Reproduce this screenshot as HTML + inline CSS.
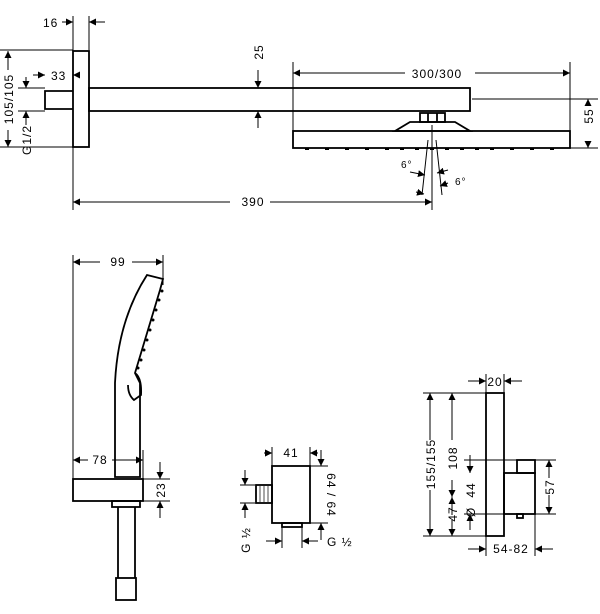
<!DOCTYPE html>
<html><head><meta charset="utf-8"><style>
html,body{margin:0;padding:0;background:#fff}
svg{display:block}
text{font-family:"Liberation Sans",sans-serif;font-size:12px;fill:#000;letter-spacing:1px}
</style></head><body>
<svg width="600" height="614" viewBox="0 0 600 614" xmlns="http://www.w3.org/2000/svg">
<defs>
<marker id="a" viewBox="0 0 10 10" refX="10" refY="5" markerWidth="7" markerHeight="7" orient="auto-start-reverse" markerUnits="userSpaceOnUse"><path d="M0,0L10,5L0,10z" fill="#000"/></marker>
</defs>
<g stroke="#000" fill="none" stroke-width="1">
<!-- TOP: extension lines -->
<line x1="73" y1="16" x2="73" y2="210"/><line x1="89" y1="16" x2="89" y2="50"/>
<line x1="0" y1="50" x2="73" y2="50"/><line x1="0" y1="147" x2="73" y2="147"/>
<line x1="18" y1="88" x2="45" y2="88"/><line x1="18" y1="111" x2="45" y2="111"/>
<line x1="293" y1="62" x2="293" y2="148"/><line x1="570" y1="62" x2="570" y2="148"/>
<line x1="472" y1="99" x2="598" y2="99"/><line x1="570" y1="148" x2="598" y2="148"/>
<line x1="432" y1="125" x2="432" y2="210"/>
</g>
<g stroke="#000" fill="none" stroke-width="1.8">
<rect x="73" y="51" width="16" height="96"/>
<rect x="89" y="88" width="381" height="23"/>
<polyline points="73,91 45,91 45,109 73,109"/>
<rect x="420" y="113" width="25" height="9"/>
<line x1="428" y1="113" x2="428" y2="122"/><line x1="437" y1="113" x2="437" y2="122"/>
<polygon points="395,131 410,122 455,122 470,131"/>
<rect x="293" y="131" width="277" height="17"/>
</g>
<g fill="#000">
<rect x="305" y="148" width="4" height="2"/><rect x="325" y="148" width="4" height="2"/><rect x="345" y="148" width="4" height="2"/><rect x="365" y="148" width="4" height="2"/><rect x="385" y="148" width="4" height="2"/><rect x="400" y="148" width="4" height="2"/><rect x="415" y="148" width="4" height="2"/><rect x="430" y="148" width="4" height="2"/><rect x="445" y="148" width="4" height="2"/><rect x="460" y="148" width="4" height="2"/><rect x="475" y="148" width="4" height="2"/><rect x="490" y="148" width="4" height="2"/><rect x="510" y="148" width="4" height="2"/><rect x="530" y="148" width="4" height="2"/><rect x="550" y="148" width="4" height="2"/>
</g>
<g stroke="#000" stroke-width="1" fill="none">
<!-- dims -->
<line x1="62" y1="22" x2="73" y2="22" marker-end="url(#a)"/><line x1="105" y1="22" x2="89" y2="22" marker-end="url(#a)"/>
<line x1="8" y1="70" x2="8" y2="51" marker-end="url(#a)"/><line x1="8" y1="130" x2="8" y2="147" marker-end="url(#a)"/>
<line x1="26" y1="77" x2="26" y2="88" marker-end="url(#a)"/><line x1="26" y1="125" x2="26" y2="111" marker-end="url(#a)"/>
<line x1="33" y1="75" x2="45" y2="75" marker-end="url(#a)"/><line x1="80" y1="75" x2="73" y2="75" marker-end="url(#a)"/>
<line x1="258" y1="70" x2="258" y2="88" marker-end="url(#a)"/><line x1="258" y1="128" x2="258" y2="111" marker-end="url(#a)"/>
<line x1="405" y1="73" x2="293" y2="73" marker-end="url(#a)"/><line x1="475" y1="73" x2="570" y2="73" marker-end="url(#a)"/>
<line x1="588" y1="105" x2="588" y2="99" marker-end="url(#a)"/><line x1="588" y1="142" x2="588" y2="148" marker-end="url(#a)"/>
<line x1="230" y1="202" x2="73" y2="202" marker-end="url(#a)"/><line x1="270" y1="202" x2="432" y2="202" marker-end="url(#a)"/>
<line x1="428" y1="140" x2="422" y2="195"/><line x1="436" y1="140" x2="442" y2="195"/>
<line x1="416" y1="192" x2="424" y2="194" marker-end="url(#a)"/><line x1="448" y1="183" x2="440" y2="186" marker-end="url(#a)"/>
<line x1="410" y1="172" x2="425" y2="175" marker-end="url(#a)"/><line x1="448" y1="170" x2="437" y2="173" marker-end="url(#a)"/>
</g>
<text x="43" y="27">16</text>
<text x="51" y="80">33</text>
<text x="253" y="202" text-anchor="middle" dy="4">390</text>
<text x="437" y="78" text-anchor="middle">300/300</text>
<text transform="translate(13,99) rotate(-90)" text-anchor="middle">105/105</text>
<text transform="translate(31,140) rotate(-90)" text-anchor="middle">G1/2</text>
<text transform="translate(263,52) rotate(-90)" text-anchor="middle">25</text>
<text transform="translate(593,116) rotate(-90)" text-anchor="middle">55</text>
<text x="401" y="168" style="font-size:10px">6°</text>
<text x="455" y="185" style="font-size:10px">6°</text>

<!-- HAND SHOWER -->
<g stroke="#000" stroke-width="1" fill="none">
<line x1="73" y1="255" x2="73" y2="480"/><line x1="163" y1="255" x2="163" y2="285"/>
<line x1="143" y1="450" x2="143" y2="479"/><line x1="143" y1="479" x2="170" y2="479"/><line x1="143" y1="501" x2="170" y2="501"/>
<line x1="100" y1="262" x2="73" y2="262" marker-end="url(#a)"/><line x1="132" y1="262" x2="163" y2="262" marker-end="url(#a)"/>
<line x1="88" y1="460" x2="73" y2="460" marker-end="url(#a)"/><line x1="112" y1="460" x2="143" y2="460" marker-end="url(#a)"/>
<line x1="160" y1="462" x2="160" y2="479" marker-end="url(#a)"/><line x1="160" y1="518" x2="160" y2="501" marker-end="url(#a)"/>
</g>
<g stroke="#000" stroke-width="1.8" fill="none">
<path d="M147,275 L163,279 L160,290 L135,373 L140,383 L140,477 L115,477 L115,383 Q118,320 147,275 Z"/>
<path d="M135,373 Q142,378 141,395 L134,400 Q128,395 128,385"/>
<rect x="73" y="479" width="70" height="22"/>
<rect x="112" y="501" width="28" height="6"/>
<line x1="118" y1="507" x2="118" y2="578"/><line x1="135" y1="507" x2="135" y2="578"/>
<rect x="116" y="578" width="20" height="22"/>
</g>
<g fill="#000">
<circle cx="162" cy="291" r="1.5"/><circle cx="159" cy="300" r="1.5"/><circle cx="156" cy="310" r="1.5"/><circle cx="153" cy="320" r="1.5"/><circle cx="150" cy="330" r="1.5"/><circle cx="147" cy="340" r="1.5"/><circle cx="144" cy="350" r="1.5"/><circle cx="141" cy="360" r="1.5"/><circle cx="138" cy="368" r="1.5"/>
</g>
<text x="118" y="266" text-anchor="middle">99</text>
<text x="100" y="464" text-anchor="middle">78</text>
<text transform="translate(165,490) rotate(-90)" text-anchor="middle">23</text>

<!-- WALL OUTLET -->
<g stroke="#000" stroke-width="1" fill="none">
<line x1="272" y1="447" x2="272" y2="466"/><line x1="310" y1="447" x2="310" y2="466"/>
<line x1="310" y1="466" x2="328" y2="466"/><line x1="310" y1="523" x2="328" y2="523"/>
<line x1="240" y1="485" x2="255" y2="485"/><line x1="240" y1="503" x2="255" y2="503"/>
<line x1="282" y1="523" x2="282" y2="548"/><line x1="302" y1="523" x2="302" y2="548"/>
<line x1="272" y1="453" x2="272" y2="453" marker-end="url(#a)"/>
<line x1="264" y1="453" x2="272" y2="453" marker-end="url(#a)"/><line x1="318" y1="453" x2="310" y2="453" marker-end="url(#a)"/>
<line x1="321" y1="450" x2="321" y2="466" marker-end="url(#a)"/><line x1="321" y1="540" x2="321" y2="523" marker-end="url(#a)"/>
<line x1="245" y1="470" x2="245" y2="485" marker-end="url(#a)"/><line x1="245" y1="518" x2="245" y2="503" marker-end="url(#a)"/>
<line x1="266" y1="541" x2="282" y2="541" marker-end="url(#a)"/><line x1="318" y1="541" x2="302" y2="541" marker-end="url(#a)"/>
</g>
<g stroke="#000" stroke-width="1.8" fill="none">
<rect x="272" y="466" width="38" height="57"/>
<rect x="256" y="485" width="16" height="18"/>
<rect x="282" y="523" width="20" height="4"/>
</g>
<g stroke="#000" stroke-width="0.7"><line x1="260" y1="486" x2="260" y2="502"/><line x1="264" y1="486" x2="264" y2="502"/><line x1="268" y1="486" x2="268" y2="502"/></g>
<text x="291" y="457" text-anchor="middle">41</text>
<text transform="translate(327,495) rotate(90)" text-anchor="middle">64 / 64</text>
<text transform="translate(250,540) rotate(-90)" text-anchor="middle">G ½</text>
<text x="327" y="546">G ½</text>

<!-- THERMOSTAT -->
<g stroke="#000" stroke-width="1" fill="none">
<line x1="486" y1="374" x2="486" y2="393"/><line x1="504" y1="374" x2="504" y2="393"/>
<line x1="423" y1="393" x2="486" y2="393"/><line x1="423" y1="536" x2="486" y2="536"/>
<line x1="464" y1="460" x2="517" y2="460"/><line x1="464" y1="514" x2="517" y2="514"/>
<line x1="535" y1="460" x2="556" y2="460"/><line x1="535" y1="514" x2="556" y2="514"/>
<line x1="486" y1="536" x2="486" y2="556"/><line x1="535" y1="514" x2="535" y2="556"/>
<line x1="468" y1="381" x2="486" y2="381" marker-end="url(#a)"/><line x1="522" y1="381" x2="504" y2="381" marker-end="url(#a)"/>
<line x1="430" y1="440" x2="430" y2="393" marker-end="url(#a)"/><line x1="430" y1="490" x2="430" y2="536" marker-end="url(#a)"/>
<line x1="452" y1="440" x2="452" y2="393" marker-end="url(#a)"/><line x1="452" y1="480" x2="452" y2="497" marker-end="url(#a)"/>
<line x1="452" y1="515" x2="452" y2="497" marker-end="url(#a)"/><line x1="452" y1="520" x2="452" y2="536" marker-end="url(#a)"/>
<line x1="470" y1="455" x2="470" y2="473" marker-end="url(#a)"/><line x1="470" y1="530" x2="470" y2="514" marker-end="url(#a)"/>
<line x1="549" y1="478" x2="549" y2="460" marker-end="url(#a)"/><line x1="549" y1="495" x2="549" y2="514" marker-end="url(#a)"/>
<line x1="468" y1="549" x2="486" y2="549" marker-end="url(#a)"/><line x1="553" y1="549" x2="535" y2="549" marker-end="url(#a)"/>
</g>
<g stroke="#000" stroke-width="1.8" fill="none">
<rect x="486" y="393" width="18" height="143"/>
<rect x="504" y="473" width="31" height="41"/>
<rect x="517" y="460" width="18" height="13"/>
<rect x="517" y="514" width="6" height="4"/>
</g>
<text x="495" y="386" text-anchor="middle">20</text>
<text x="511" y="553" text-anchor="middle">54-82</text>
<text transform="translate(435,464) rotate(-90)" text-anchor="middle">155/155</text>
<text transform="translate(457,458) rotate(-90)" text-anchor="middle">108</text>
<text transform="translate(457,514) rotate(-90)" text-anchor="middle">47</text>
<text transform="translate(475,490) rotate(-90)" text-anchor="middle">44</text>
<text transform="translate(475,512) rotate(-90)" text-anchor="middle">Ø</text>
<text transform="translate(554,487) rotate(-90)" text-anchor="middle">57</text>
</svg>
</body></html>
